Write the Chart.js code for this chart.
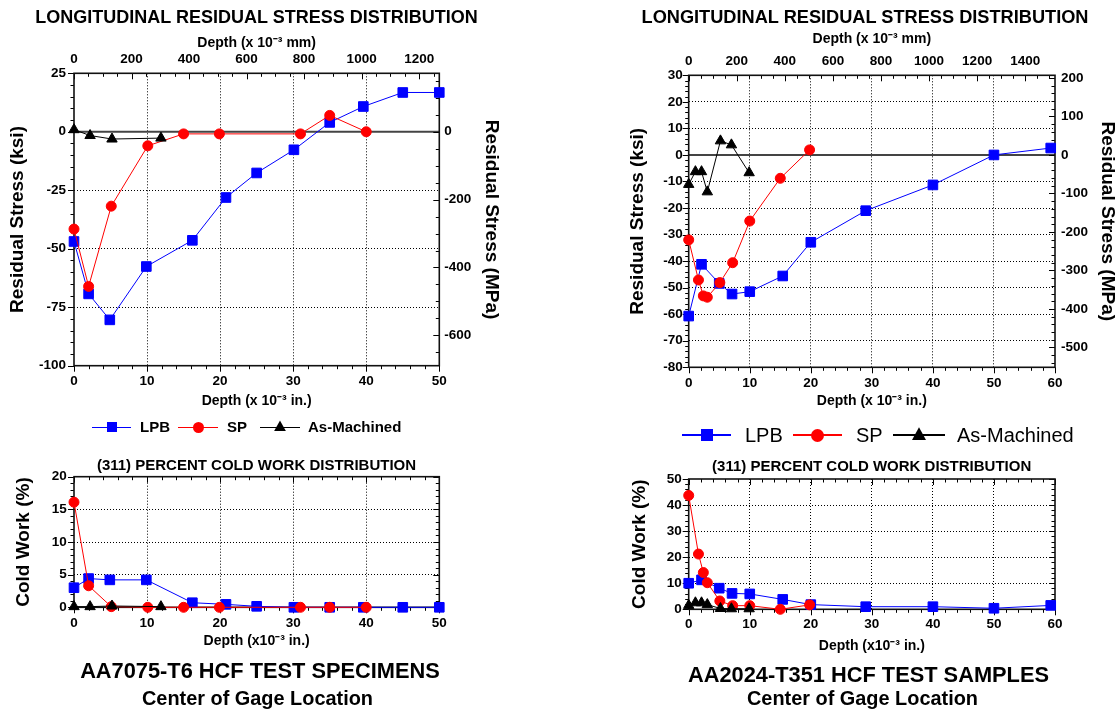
<!DOCTYPE html>
<html>
<head>
<meta charset="utf-8">
<script src="https://cdn.jsdelivr.net/npm/chart.js@4.4.0/dist/chart.umd.min.js"></script>
<style>
  body { margin: 0; background: #fff; }
  #page { position: relative; width: 1120px; height: 711px; overflow: hidden; font-family: "Liberation Sans", Arial, sans-serif; color: #000; }
  #page canvas { position: absolute; }
  .txt { position: absolute; width: 600px; text-align: center; white-space: nowrap; }
  .abs { position: absolute; white-space: nowrap; }
</style>
</head>
<body>
<div id="page"></div>
<script>
// AA7075-T6 residual stress (ksi) vs depth (x 10^-3 in.)
const lpbDepth7075 = [0, 2, 4.9, 9.9, 16.2, 20.8, 25, 30.1, 35, 39.6, 45, 50];
const lpbStress7075 = [-46.9, -69.3, -80.4, -57.6, -46.4, -28.1, -17.6, -7.7, 4.0, 10.8, 16.8, 16.8];
const spDepth7075 = [0, 2, 5.1, 10.1, 15, 19.9, 31, 35, 40];
const spStress7075 = [-41.6, -66.1, -31.8, -6.0, -0.9, -0.9, -0.9, 7.0, 0];
const amDepth7075 = [0, 2.2, 5.2, 11.9];
const amStress7075 = [0.9, -1.6, -3.1, -2.7];

// AA7075-T6 cold work (%)
const lpbCw7075 = [3.0, 4.4, 4.2, 4.2, 0.7, 0.45, 0.15, 0, 0, 0, 0, 0];
const spCw7075 = [16.1, 3.3, 0.1, 0, 0, 0, 0, 0, 0];
const amCw7075 = [0.1, 0.1, 0.2, 0.1];

// AA2024-T351 residual stress (ksi)
const lpbDepth2024 = [0, 2.1, 5.0, 7.1, 10.0, 15.4, 20.0, 29.0, 40.0, 50.0, 59.3];
const lpbStress2024 = [-60.7, -41.2, -48.4, -52.4, -51.5, -45.6, -32.9, -21.0, -11.3, 0, 2.6];
const spDepth2024 = [0, 1.6, 2.4, 3.05, 5.1, 7.2, 10.0, 15.0, 19.8];
const spStress2024 = [-32.0, -47.1, -53.1, -53.6, -48.1, -40.6, -24.9, -8.8, 1.9];
const amDepth2024 = [0, 1.1, 2.1, 3.05, 5.2, 7.0, 9.9];
const amStress2024 = [-11.1, -6.3, -6.3, -13.9, 5.3, 3.8, -6.7];

// AA2024-T351 cold work (%)
const lpbCw2024 = [10.0, 11.3, 8.1, 6.1, 5.9, 3.8, 1.8, 1.0, 1.0, 0.4, 1.5];
const spCw2024 = [43.7, 21.2, 14.1, 10.2, 3.2, 1.4, 1.4, 0, 1.7];
const amCw2024 = [1.5, 2.5, 2.5, 1.8, 0.3, 0.2, 0.2];

const KSI_TO_MPA = 6.89476;
const MIL_TO_UM = 25.4;

const BLUE = '#0000ff', RED = '#ff0000', BLACK = '#000000';
const CLEAR = 'rgba(0,0,0,0)';

Chart.defaults.font.family = '"Liberation Sans", Arial, sans-serif';
Chart.defaults.color = '#000';

const page = document.getElementById('page');

function makeCanvas(left, top, w, h) {
  const c = document.createElement('canvas');
  c.width = w; c.height = h;
  c.style.left = left + 'px';
  c.style.top = top + 'px';
  page.appendChild(c);
  return c;
}

function addText(txt, cx, cy, size, weight) {
  const d = document.createElement('div');
  d.className = 'txt';
  d.textContent = txt;
  d.style.cssText = `left:${cx - 300}px;top:${cy - size}px;height:${2 * size}px;line-height:${2 * size}px;font-size:${size}px;font-weight:${weight}`;
  page.appendChild(d);
}

// legend entry: line with marker in the middle, then label
function addLegend(x1, x2, cy, color, shape, m, label, textX, size, weight, lw) {
  const line = document.createElement('div');
  line.className = 'abs';
  line.style.cssText = `left:${x1}px;top:${cy - lw / 2}px;width:${x2 - x1}px;height:${lw}px;background:${color}`;
  page.appendChild(line);
  const mk = document.createElement('div');
  mk.className = 'abs';
  const cx = (x1 + x2) / 2;
  let css = `left:${cx - m / 2}px;top:${cy - m / 2}px;width:${m}px;height:${m}px;background:${color};`;
  if (shape === 'circle') css += 'border-radius:50%;';
  if (shape === 'triangle') css = `left:${cx - m / 2}px;top:${cy - m * 0.55}px;width:${m}px;height:${m * 0.9}px;background:${color};clip-path:polygon(50% 0,100% 100%,0 100%);`;
  mk.style.cssText = css;
  page.appendChild(mk);
  const t = document.createElement('div');
  t.className = 'abs';
  t.textContent = label;
  t.style.cssText = `left:${textX}px;top:${cy - size}px;line-height:${2 * size}px;font-size:${size}px;font-weight:${weight}`;
  page.appendChild(t);
}

function series(label, xs, ys, color, style, radius, order) {
  return {
    label,
    data: xs.map((x, i) => ({ x, y: ys[i] })),
    borderColor: color,
    backgroundColor: color,
    borderWidth: 1,
    showLine: true,
    tension: 0,
    pointStyle: style,
    pointRadius: radius,
    pointHoverRadius: radius,
    pointBorderWidth: 1,
    clip: false,
    order
  };
}

function linScale(o) {
  return {
    type: 'linear',
    position: o.pos,
    min: o.min,
    max: o.max,
    afterFit: s => { if (s.isHorizontal()) s.height = o.size; else s.width = o.size; },
    afterBuildTicks: s => {
      s.ticks = s.ticks.filter(t => Math.abs(t.value / o.step - Math.round(t.value / o.step)) < 1e-6);
    },
    ticks: {
      stepSize: o.step, includeBounds: false, padding: o.tickPad, autoSkip: false, maxRotation: 0,
      font: { size: 13.5, weight: 'bold' }, color: '#000', callback: v => String(v)
    },
    grid: {
      display: !!o.grid, drawTicks: false, lineWidth: 1, borderDash: [1, 2],
      color: c => (c.tick && (o.hide || []).includes(c.tick.value)) ? CLEAR : '#000'
    },
    border: { display: false, dash: [1, 2] },
    title: {
      display: !!o.title, text: o.title, color: '#000',
      font: { size: o.titleSize || 14, weight: 'bold' }, padding: o.titlePad
    }
  };
}

// zero line, plot frame and major/minor tick marks
const decoPlugin = {
  id: 'deco',
  beforeDatasetsDraw(chart, args, opts) {
    const { ctx, chartArea: a } = chart;
    ctx.save();
    if (opts.zero) {
      const y0 = chart.scales.y.getPixelForValue(0);
      ctx.strokeStyle = '#444';
      ctx.lineWidth = 2;
      ctx.beginPath(); ctx.moveTo(a.left, y0); ctx.lineTo(a.right, y0); ctx.stroke();
    }
    ctx.strokeStyle = '#000';
    ctx.lineWidth = 1;
    (opts.marks || []).forEach(m => {
      const s = chart.scales[m.id];
      const start = Math.ceil(s.min / m.minor - 1e-9) * m.minor;
      for (let i = 0; ; i++) {
        const v = start + i * m.minor;
        if (v > s.max + 1e-9) break;
        const major = Math.abs(v / m.major - Math.round(v / m.major)) < 1e-6;
        const len = (major ? 6 : 3.5) * (m.dir === 'out' ? 1 : -1);
        const p = Math.round(s.getPixelForValue(v)) + 0.5;
        ctx.beginPath();
        if (m.side === 'left') { ctx.moveTo(a.left, p); ctx.lineTo(a.left - len, p); }
        if (m.side === 'right') { ctx.moveTo(a.right, p); ctx.lineTo(a.right + len, p); }
        if (m.side === 'bottom') { ctx.moveTo(p, a.bottom); ctx.lineTo(p, a.bottom + len); }
        if (m.side === 'top') { ctx.moveTo(p, a.top); ctx.lineTo(p, a.top - len); }
        ctx.stroke();
      }
    });
    ctx.strokeStyle = '#111';
    ctx.lineWidth = 1.6;
    ctx.strokeRect(a.left, a.top, a.right - a.left, a.bottom - a.top);
    ctx.restore();
  }
};

function options(padding, deco, scales) {
  return {
    responsive: false,
    animation: false,
    events: [],
    layout: { padding, autoPadding: false },
    plugins: { legend: { display: false }, tooltip: { enabled: false }, deco },
    scales
  };
}

// ---------- AA7075 residual stress ----------
new Chart(makeCanvas(0, 24, 505, 389), {
  type: 'scatter',
  plugins: [decoPlugin],
  data: { datasets: [
    series('LPB', lpbDepth7075, lpbStress7075, BLUE, 'rect', 6.8, 3),
    series('SP', spDepth7075, spStress7075, RED, 'circle', 5, 2),
    series('As-Machined', amDepth7075, amStress7075, BLACK, 'triangle', 6, 1)
  ]},
  options: options(0, {
    zero: true,
    marks: [
      { id: 'x', side: 'bottom', dir: 'out', major: 10, minor: 2 },
      { id: 'x2', side: 'top', dir: 'in', major: 200, minor: 50 },
      { id: 'y', side: 'left', dir: 'out', major: 25, minor: 5 },
      { id: 'y2', side: 'right', dir: 'in', major: 200, minor: 50 }
    ]
  }, {
    x: linScale({ pos: 'bottom', min: 0, max: 50, step: 10, size: 47.3, tickPad: 7.5, grid: true, hide: [0, 50],
      title: 'Depth (x 10⁻³ in.)', titlePad: { top: 0, bottom: 3.6 } }),
    x2: linScale({ pos: 'top', min: 0, max: 50 * MIL_TO_UM, step: 200, size: 49.3, tickPad: 5.5,
      title: 'Depth (x 10⁻³ mm)', titlePad: { top: 11, bottom: 0 } }),
    y: linScale({ pos: 'left', min: -100, max: 25, step: 25, size: 74, tickPad: 8, grid: true, hide: [-100, 0, 25],
      title: 'Residual Stress (ksi)', titleSize: 19, titlePad: { top: 6.6, bottom: 0 } }),
    y2: linScale({ pos: 'right', min: -100 * KSI_TO_MPA, max: 25 * KSI_TO_MPA, step: 200, size: 65.7, tickPad: 5,
      title: 'Residual Stress (MPa)', titleSize: 19, titlePad: { top: 2.6, bottom: 0 } })
  })
});

// ---------- AA2024 residual stress ----------
new Chart(makeCanvas(620, 24, 500, 389), {
  type: 'scatter',
  plugins: [decoPlugin],
  data: { datasets: [
    series('LPB', lpbDepth2024, lpbStress2024, BLUE, 'rect', 6.8, 3),
    series('SP', spDepth2024, spStress2024, RED, 'circle', 5, 2),
    series('As-Machined', amDepth2024, amStress2024, BLACK, 'triangle', 6, 1)
  ]},
  options: options(0, {
    zero: true,
    marks: [
      { id: 'x', side: 'bottom', dir: 'out', major: 10, minor: 2 },
      { id: 'x2', side: 'top', dir: 'in', major: 200, minor: 50 },
      { id: 'y', side: 'left', dir: 'out', major: 10, minor: 2 },
      { id: 'y2', side: 'right', dir: 'in', major: 100, minor: 20 }
    ]
  }, {
    x: linScale({ pos: 'bottom', min: 0, max: 60, step: 10, size: 45.7, tickPad: 7.4, grid: true, hide: [0, 60],
      title: 'Depth (x 10⁻³ in.)', titlePad: { top: 0, bottom: 3.6 } }),
    x2: linScale({ pos: 'top', min: 0, max: 60 * MIL_TO_UM, step: 200, size: 51.3, tickPad: 5.5,
      title: 'Depth (x 10⁻³ mm)', titlePad: { top: 6.5, bottom: 0 } }),
    y: linScale({ pos: 'left', min: -80, max: 30, step: 10, size: 68.7, tickPad: 6, grid: true, hide: [-80, 0, 30],
      title: 'Residual Stress (ksi)', titleSize: 19, titlePad: { top: 6.6, bottom: 0 } }),
    y2: linScale({ pos: 'right', min: -80 * KSI_TO_MPA, max: 30 * KSI_TO_MPA, step: 100, size: 65, tickPad: 6,
      title: 'Residual Stress (MPa)', titleSize: 19, titlePad: { top: 1.6, bottom: 0 } })
  })
});

// ---------- AA7075 cold work ----------
new Chart(makeCanvas(0, 455, 505, 197), {
  type: 'scatter',
  plugins: [decoPlugin],
  data: { datasets: [
    series('LPB', lpbDepth7075, lpbCw7075, BLUE, 'rect', 6.8, 3),
    series('SP', spDepth7075, spCw7075, RED, 'circle', 5, 2),
    series('As-Machined', amDepth7075, amCw7075, BLACK, 'triangle', 6, 1)
  ]},
  options: options({ left: 0, top: 21.7, right: 65.7, bottom: 0 }, {
    marks: [
      { id: 'x', side: 'bottom', dir: 'out', major: 10, minor: 2 },
      { id: 'x', side: 'top', dir: 'in', major: 10, minor: 2 },
      { id: 'y', side: 'left', dir: 'out', major: 5, minor: 1 },
      { id: 'y', side: 'right', dir: 'in', major: 5, minor: 1 }
    ]
  }, {
    x: linScale({ pos: 'bottom', min: 0, max: 50, step: 10, size: 44.7, tickPad: 7.4, grid: true, hide: [0, 50],
      title: 'Depth (x10⁻³ in.)', titlePad: { top: 0, bottom: 2.6 } }),
    y: linScale({ pos: 'left', min: 0, max: 20, step: 5, size: 74, tickPad: 7.3, grid: true, hide: [0, 20],
      title: 'Cold Work (%)', titleSize: 19, titlePad: { top: 12.6, bottom: 0 } })
  })
});

// ---------- AA2024 cold work ----------
new Chart(makeCanvas(620, 455, 460, 202), {
  type: 'scatter',
  plugins: [decoPlugin],
  data: { datasets: [
    series('LPB', lpbDepth2024, lpbCw2024, BLUE, 'rect', 6.8, 3),
    series('SP', spDepth2024, spCw2024, RED, 'circle', 5, 2),
    series('As-Machined', amDepth2024, amCw2024, BLACK, 'triangle', 6, 1)
  ]},
  options: options({ left: 0, top: 24, right: 25, bottom: 0 }, {
    marks: [
      { id: 'x', side: 'bottom', dir: 'out', major: 10, minor: 2 },
      { id: 'x', side: 'top', dir: 'in', major: 10, minor: 2 },
      { id: 'y', side: 'left', dir: 'out', major: 10, minor: 2 },
      { id: 'y', side: 'right', dir: 'in', major: 10, minor: 2 }
    ]
  }, {
    x: linScale({ pos: 'bottom', min: 0, max: 60, step: 10, size: 47.7, tickPad: 7, grid: true, hide: [0, 60],
      title: 'Depth (x10⁻³ in.)', titlePad: { top: 0, bottom: 2.6 } }),
    y: linScale({ pos: 'left', min: 0, max: 50, step: 10, size: 68.7, tickPad: 7, grid: true, hide: [0, 50],
      title: 'Cold Work (%)', titleSize: 19, titlePad: { top: 8.6, bottom: 0 } })
  })
});

// titles
addText('LONGITUDINAL RESIDUAL STRESS DISTRIBUTION', 256.5, 17, 18, 'bold');
addText('LONGITUDINAL RESIDUAL STRESS DISTRIBUTION', 865, 16.7, 18.2, 'bold');
addText('(311) PERCENT COLD WORK DISTRIBUTION', 256.5, 464.5, 15, 'bold');
addText('(311) PERCENT COLD WORK DISTRIBUTION', 871.7, 466, 15, 'bold');
addText('AA7075-T6 HCF TEST SPECIMENS', 260, 670.5, 21.8, 'bold');
addText('Center of Gage Location', 257.5, 699, 19.9, 'bold');
addText('AA2024-T351 HCF TEST SAMPLES', 868.5, 674.7, 21.8, 'bold');
addText('Center of Gage Location', 862.5, 699, 19.9, 'bold');

// legends
addLegend(92, 131, 427, BLUE, 'square', 10, 'LPB', 140, 15, 'bold', 1);
addLegend(178, 218, 427, RED, 'circle', 11, 'SP', 227, 15, 'bold', 1);
addLegend(260, 300, 427, BLACK, 'triangle', 12, 'As-Machined', 308, 15, 'bold', 1);

addLegend(682, 731, 435, BLUE, 'square', 12, 'LPB', 745, 20, 'normal', 1.5);
addLegend(793, 842, 435, RED, 'circle', 13, 'SP', 856, 20, 'normal', 1.5);
addLegend(893, 945, 435, BLACK, 'triangle', 14, 'As-Machined', 957, 20, 'normal', 1.5);
</script>
</body>
</html>
